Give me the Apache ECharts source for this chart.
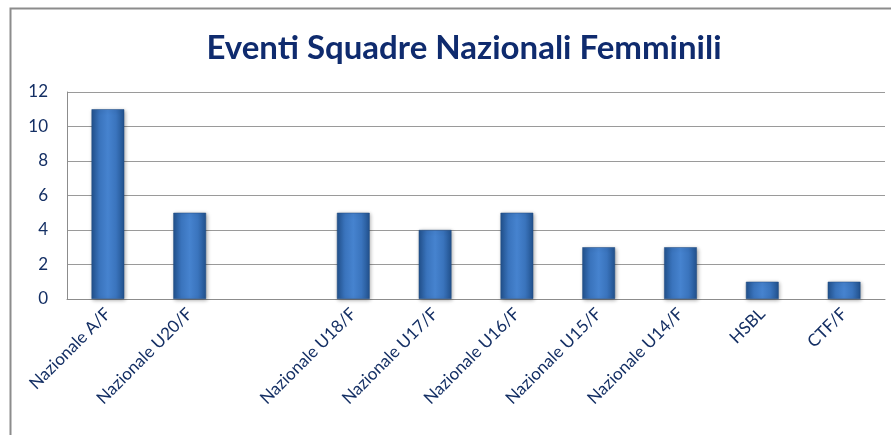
<!DOCTYPE html>
<html>
<head>
<meta charset="utf-8">
<script src="https://cdn.jsdelivr.net/npm/echarts@6/dist/echarts.min.js"></script>
<style>
  html, body { margin: 0; padding: 0; background: #fff; }
  #chart { width: 891px; height: 435px; }
</style>
</head>
<body>
<div id="chart"></div>
<script>
var titleText = "Eventi Squadre Nazionali Femminili";
var categories = ["Nazionale A/F", "Nazionale U20/F", "", "Nazionale U18/F", "Nazionale U17/F",
    "Nazionale U16/F", "Nazionale U15/F", "Nazionale U14/F", "HSBL", "CTF/F"];
var eventi = [11, 5, "-", 5, 4, 5, 3, 3, 1, 1];
var yTicks = { min: 0, max: 12, interval: 2 };

var myChart = echarts.init(document.getElementById('chart'));

// colore delle barre, scuro ai bordi e chiaro al centro
var barColor = new echarts.graphic.LinearGradient(0, 0, 1, 0, [
    { offset: 0, color: '#22528e' },
    { offset: 0.25, color: '#3a74bd' },
    { offset: 0.5, color: '#4683cf' },
    { offset: 0.75, color: '#3a74bd' },
    { offset: 1, color: '#22528e' }
]);

var option = {
    animation: false,
    title: {
        text: titleText,
        left: 459,
        top: 27,
        textAlign: 'center',
        textStyle: {
            fontFamily: 'Lato',
            fontWeight: 'bold',
            fontSize: 33,
            color: '#0f2b6e'
        }
    },
    graphic: [{
        type: 'rect',
        shape: { x: 10.5, y: 8.5, width: 900, height: 450 },
        style: { fill: 'none', stroke: '#8c8c8c', lineWidth: 2 },
        silent: true
    }],
    grid: {
        left: 67,
        right: 6,
        top: 92,
        bottom: 136
    },
    xAxis: {
        type: 'category',
        data: categories,
        axisLine: { lineStyle: { color: '#8c8c8c', width: 1 } },
        axisTick: { show: false },
        axisLabel: {
            interval: 0,
            rotate: 45,
            margin: 12,
            fontFamily: 'Lato',
            fontSize: 17,
            color: '#142f64'
        }
    },
    yAxis: {
        type: 'value',
        min: yTicks.min,
        max: yTicks.max,
        interval: yTicks.interval,
        axisLine: { show: true, lineStyle: { color: '#8c8c8c', width: 1 } },
        axisTick: { show: false },
        splitLine: { lineStyle: { color: '#9a9a9a', width: 1 } },
        axisLabel: {
            margin: 19,
            fontFamily: 'Lato',
            fontSize: 17,
            color: '#142f64'
        }
    },
    series: [{
        type: 'bar',
        data: eventi,
        barWidth: '40%',
        itemStyle: {
            color: barColor,
            borderColor: '#1e4a82',
            borderWidth: 0.5,
            shadowColor: 'rgba(0,0,0,0.35)',
            shadowBlur: 4,
            shadowOffsetX: 1,
            shadowOffsetY: 1
        }
    }]
};

myChart.setOption(option);
</script>
</body>
</html>
